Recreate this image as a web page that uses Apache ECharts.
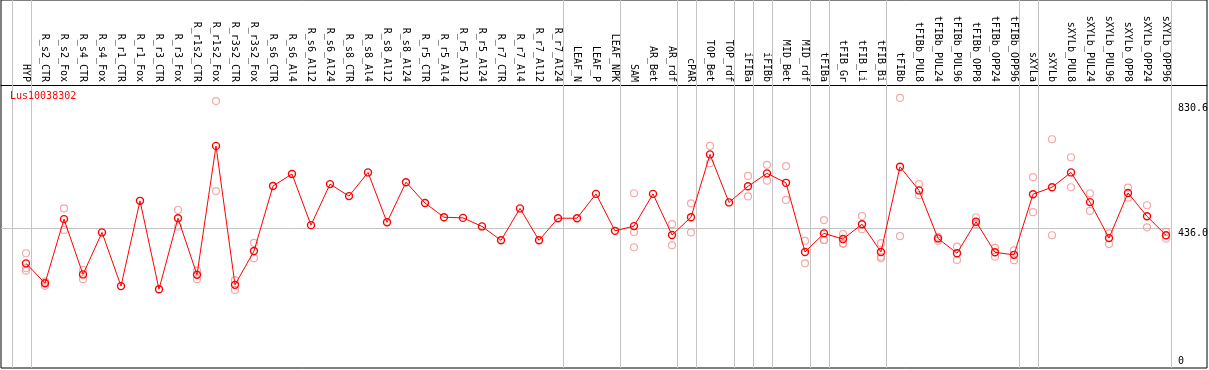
<!DOCTYPE html>
<html>
<head>
<meta charset="utf-8">
<script src="https://cdn.jsdelivr.net/npm/echarts@6/dist/echarts.min.js"></script>
<style>
html,body{margin:0;padding:0;background:#fff;}
#chart{width:1209px;height:370px;}
</style>
</head>
<body>
<div id="chart"></div>
<script>
const seriesName = 'Lus10038302';
const categories = ['HYP','R_s2_CTR','R_s2_Fox','R_s4_CTR','R_s4_Fox','R_r1_CTR','R_r1_Fox','R_r3_CTR','R_r3_Fox','R_r1s2_CTR','R_r1s2_Fox','R_r3s2_CTR','R_r3s2_Fox','R_s6_CTR','R_s6_Al4','R_s6_Al12','R_s6_Al24','R_s8_CTR','R_s8_Al4','R_s8_Al12','R_s8_Al24','R_r5_CTR','R_r5_Al4','R_r5_Al12','R_r5_Al24','R_r7_CTR','R_r7_Al4','R_r7_Al12','R_r7_Al24','LEAF_N','LEAF_P','LEAF_NPK','SAM','AR_Bet','AR_rdf','cPAR','TOP_Bet','TOP_rdf','iFIBa','iFIBb','MID_Bet','MID_rdf','tFIBa','tFIB_Gr','tFIB_Li','tFIB_Bi','tFIBb','tFIBb_PUL8','tFIBb_PUL24','tFIBb_PUL96','tFIBb_OPP8','tFIBb_OPP24','tFIBb_OPP96','sXYLa','sXYLb','sXYLb_PUL8','sXYLb_PUL24','sXYLb_PUL96','sXYLb_OPP8','sXYLb_OPP24','sXYLb_OPP96'];
const meanValues = [325,262,465,290,423,253,523,243,468,289,697,257,364,570,608,446,576,538,613,455,582,516,471,469,442,398,499,398,468,468,545,428,443,545,415,471,670,518,569,610,580,361,420,402,449,361,631,556,404,357,457,360,352,544,566,613,519,405,548,474,414];
const rep1 = [357,267,499,304,null,null,null,null,494,302,839,272,390,null,null,null,null,null,null,null,null,null,null,null,null,null,null,null,null,null,null,null,547,null,449,515,697,null,602,637,633,396,462,418,475,389,849,576,409,378,471,374,366,598,718,661,547,420,565,509,425];
const rep2 = [310,254,431,275,null,null,null,null,441,275,554,241,341,null,null,null,null,null,null,null,null,null,null,null,null,null,null,null,null,null,null,null,424,null,382,423,642,null,537,587,526,325,399,389,433,346,411,541,397,336,450,346,335,487,414,566,491,386,533,439,403];
const rep3 = [302,null,null,null,null,null,null,null,null,null,null,null,null,null,null,null,null,null,null,null,null,null,null,null,null,null,null,null,null,null,null,null,376,null,null,null,null,null,null,null,null,null,399,387,null,341,null,null,null,null,null,null,null,null,null,null,null,null,null,null,null];
const groupEnds = [-1,0,28,31,34,35,37,38,39,41,42,45,52,53,60];
const refValue = 436.0;
const topTickValue = 830.6;
const zeroTick = 0;

// layout constants
const step = 19, firstX = 26, gridLeft = 1, gridRight = 2, gridTop = 0, gridBottom = 2;
const W = 1209 - gridLeft - gridRight;
const xMin = -(firstX - gridLeft) / step;
const xMax = xMin + W / step;
const zeroY = 366, topTickY = 103.7;
const k = (zeroY - topTickY) / topTickValue;
const gridH = 370 - gridTop - gridBottom;
const yMin = -((gridTop + gridH) - zeroY) / k;
const yMax = (zeroY - gridTop) / k;
const sepOffset = 0.25;

const mono = 'DejaVu Sans Mono';
const pink = '#f09494';
const red = '#ff0000';
const gray = '#c4c4c4';
const clear = 'rgba(255,255,255,0)';

const repData = [];
[rep1, rep2, rep3].forEach(arr => arr.forEach((v, i) => { if (v != null) repData.push([i, v]); }));

const chart = echarts.init(document.getElementById('chart'), null, {renderer: 'canvas'});
chart.setOption({
  animation: false,
  backgroundColor: '#fff',
  title: {
    text: seriesName, left: 10, top: 91, padding: 0,
    textStyle: {color: red, fontSize: 10, fontWeight: 'normal', fontFamily: mono}
  },
  grid: {
    left: gridLeft, right: gridRight, top: gridTop, bottom: gridBottom,
    show: true, borderColor: '#000', borderWidth: 1, backgroundColor: 'transparent',
    containLabel: false, outerBoundsMode: 'none'
  },
  xAxis: {
    type: 'value', min: xMin, max: xMax, position: 'top', offset: -85,
    axisLine: {show: true, onZero: false, lineStyle: {color: '#000', width: 1}},
    axisTick: {show: false},
    splitLine: {show: false},
    axisLabel: {
      show: true, rotate: 90, margin: 3, fontSize: 10, fontFamily: mono, color: '#000',
      customValues: categories.map((_, i) => i),
      formatter: v => categories[Math.round(v)] || ''
    }
  },
  yAxis: [{
    type: 'value', min: yMin, max: yMax, position: 'right', offset: -29,
    axisLine: {show: false}, axisTick: {show: false}, splitLine: {show: false},
    axisLabel: {
      show: true, margin: 0, fontSize: 10, fontFamily: mono, color: '#000',
      verticalAlign: 'top', align: 'left',
      customValues: [refValue, topTickValue],
      formatter: v => Number(v).toFixed(1)
    }
  }, {
    type: 'value', min: yMin, max: yMax, position: 'right', offset: -29,
    axisLine: {show: false}, axisTick: {show: false}, splitLine: {show: false},
    axisLabel: {
      show: true, margin: 0, fontSize: 10, fontFamily: mono, color: '#000',
      verticalAlign: 'bottom', align: 'left',
      customValues: [zeroTick],
      formatter: v => String(v)
    }
  }],
  series: [{
    type: 'scatter', name: 'replicates', data: repData, z: 2,
    symbol: 'circle', symbolSize: 7, clip: false,
    itemStyle: {color: clear, borderColor: pink, borderWidth: 1.2},
    markLine: {
      silent: true, symbol: 'none', z: 1,
      label: {show: false},
      lineStyle: {color: gray, type: 'solid', width: 1},
      emphasis: {disabled: true},
      data: groupEnds.map(e => ({xAxis: e + sepOffset}))
        .concat([[{coord: [xMin, refValue]}, {coord: [groupEnds[groupEnds.length - 1] + sepOffset, refValue]}]])
    }
  }, {
    type: 'line', name: seriesName, z: 3,
    data: meanValues.map((v, i) => [i, v]),
    symbol: 'circle', symbolSize: 7, showAllSymbol: true, clip: false,
    lineStyle: {color: red, width: 1},
    itemStyle: {color: clear, borderColor: red, borderWidth: 1.4}
  }]
});
</script>
</body>
</html>
